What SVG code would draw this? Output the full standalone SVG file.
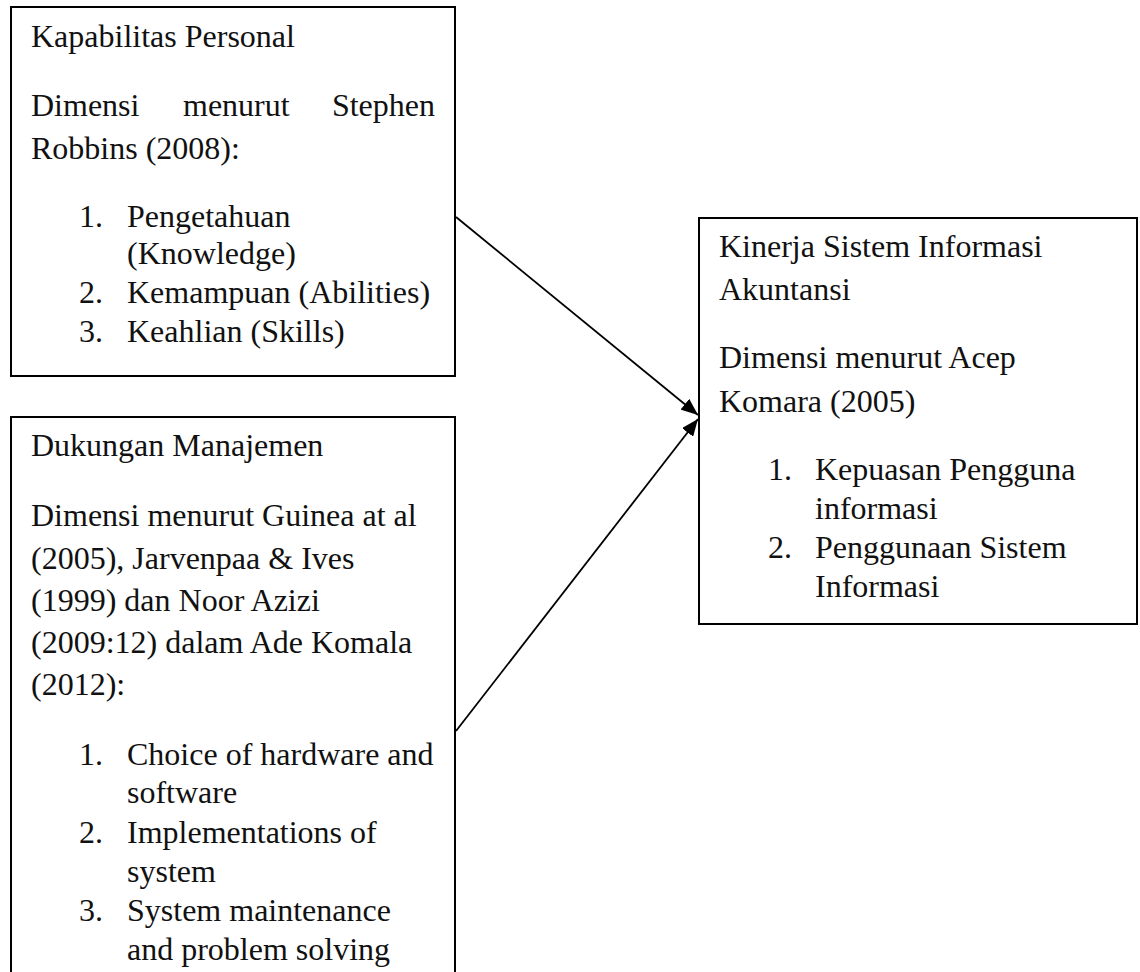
<svg xmlns="http://www.w3.org/2000/svg" width="1140" height="972" viewBox="0 0 1140 972">
  <style>
    .box { fill: #ffffff; stroke: #000000; stroke-width: 2; }
    .t { font-family: "Liberation Serif", "Times New Roman", serif; font-size: 32px; fill: #111111; }
    .edge { stroke: #000000; stroke-width: 1.8; fill: none; marker-end: url(#arrow); }
  </style>
  <defs>
    <marker id="arrow" markerUnits="userSpaceOnUse" markerWidth="18" markerHeight="14" refX="17" refY="7" orient="auto">
      <path d="M0,0 L17,7 L0,14 z" fill="#000000"/>
    </marker>
  </defs>
  <rect width="1140" height="972" fill="#ffffff"/>

  <g id="node-kapabilitas">
    <rect class="box" x="11" y="7" width="444" height="369"/>
    <text class="t" x="31" y="47">Kapabilitas Personal</text>
    <text class="t" x="31" y="116">Dimensi</text>
    <text class="t" x="183" y="116">menurut</text>
    <text class="t" x="435" y="116" text-anchor="end">Stephen</text>
    <text class="t" x="31" y="159">Robbins (2008):</text>
    <text class="t" x="79" y="227">1.</text>
    <text class="t" x="127" y="227">Pengetahuan</text>
    <text class="t" x="127" y="264">(Knowledge)</text>
    <text class="t" x="79" y="303">2.</text>
    <text class="t" x="127" y="303">Kemampuan (Abilities)</text>
    <text class="t" x="79" y="342">3.</text>
    <text class="t" x="127" y="342">Keahlian (Skills)</text>
  </g>

  <g id="node-dukungan">
    <rect class="box" x="11" y="417" width="444" height="580"/>
    <text class="t" x="31" y="456">Dukungan Manajemen</text>
    <text class="t" x="31" y="526">Dimensi menurut Guinea at al</text>
    <text class="t" x="31" y="569">(2005), Jarvenpaa &amp; Ives</text>
    <text class="t" x="31" y="611">(1999) dan Noor Azizi</text>
    <text class="t" x="31" y="653">(2009:12) dalam Ade Komala</text>
    <text class="t" x="31" y="695">(2012):</text>
    <text class="t" x="79" y="765">1.</text>
    <text class="t" x="127" y="765">Choice of hardware and</text>
    <text class="t" x="127" y="803">software</text>
    <text class="t" x="79" y="843">2.</text>
    <text class="t" x="127" y="843">Implementations of</text>
    <text class="t" x="127" y="882">system</text>
    <text class="t" x="79" y="921">3.</text>
    <text class="t" x="127" y="921">System maintenance</text>
    <text class="t" x="127" y="960">and problem solving</text>
  </g>

  <g id="node-kinerja">
    <rect class="box" x="699" y="218" width="438" height="406"/>
    <text class="t" x="719" y="257">Kinerja Sistem Informasi</text>
    <text class="t" x="719" y="300">Akuntansi</text>
    <text class="t" x="719" y="368">Dimensi menurut Acep</text>
    <text class="t" x="719" y="412">Komara (2005)</text>
    <text class="t" x="768" y="480">1.</text>
    <text class="t" x="815" y="480">Kepuasan Pengguna</text>
    <text class="t" x="815" y="519">informasi</text>
    <text class="t" x="768" y="558">2.</text>
    <text class="t" x="815" y="558">Penggunaan Sistem</text>
    <text class="t" x="815" y="597">Informasi</text>
  </g>

  <g id="connectors">
    <line class="edge" x1="456" y1="217" x2="698" y2="415"/>
    <line class="edge" x1="456" y1="731" x2="698" y2="419"/>
  </g>
</svg>
